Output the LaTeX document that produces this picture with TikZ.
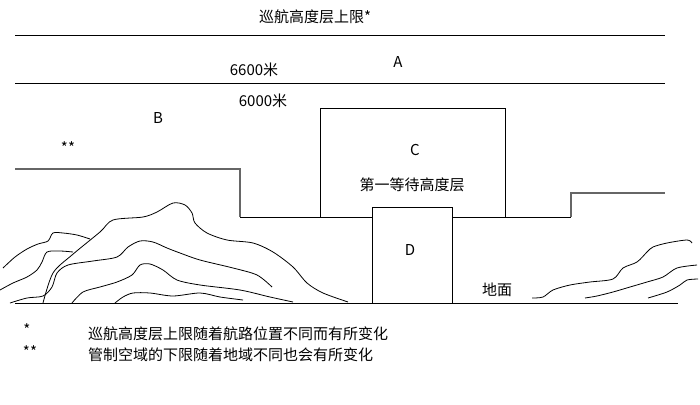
\documentclass[tikz,border=0pt]{standalone}
\usepackage{fontspec}
\newfontfamily\cjk{Noto Sans CJK SC}
\begin{document}
\begin{tikzpicture}[x=1pt,y=-1pt,
  lbl/.style={font=\cjk\fontsize{15}{17}\selectfont,inner sep=0pt},
  ln/.style={line width=0.9pt,black},
  gln/.style={line width=1.1pt,black!60},
  mtn/.style={line width=0.8pt,black}]
\useasboundingbox[fill=white] (0,0) rectangle (700,404);
\draw[ln] (15,35) -- (665,35);
\draw[ln] (15,83) -- (665,83);
\draw[gln] (15,169) -- (240,169) -- (240,217);
\draw[ln] (240,217) -- (571,217);
\draw[gln] (571,217) -- (571,193) -- (665,193);
\draw[ln] (320,217) -- (320,108) -- (505,108) -- (505,217);
\draw[ln,fill=white] (372,303) -- (372,207) -- (452,207) -- (452,303);
\draw[ln] (15,303) -- (678,303);
% mountains
\draw[mtn] plot[smooth,tension=0.5] coordinates {(43,303) (53,273) (72,255) (100,232) (113,220) (143,217) (157,212) (173,203) (185,205) (192,213) (195,223) (207,233) (227,240) (253,243) (273,252) (293,267) (307,283) (323,293) (348,302)};
\draw[mtn] plot[smooth,tension=0.5] coordinates {(3,268) (15,257) (27,249) (38,244) (48,241) (53,233) (63,233) (77,235) (90,239)};
\draw[mtn] plot[smooth,tension=0.5] coordinates {(0,290) (13,283) (27,277) (37,270) (42,262) (47,252) (60,251) (73,252)};
\draw[mtn] plot[smooth,tension=0.5] coordinates {(10,303) (27,298) (43,296) (52,287) (57,273) (68,265) (93,261) (117,257) (128,247) (140,241) (153,242) (167,248) (180,253) (200,260) (233,268) (257,275) (272,287)};
\draw[mtn] plot[smooth,tension=0.5] coordinates {(72,303) (83,292) (100,287) (117,282) (132,275) (140,265) (150,264) (163,270) (177,280) (200,285) (240,290) (270,297) (293,302)};
\draw[mtn] plot[smooth,tension=0.5] coordinates {(115,303) (123,297) (133,293) (150,293) (173,296) (200,293) (220,297) (243,300)};
\draw[mtn] plot[smooth,tension=0.5] coordinates {(532,298) (543,297) (553,290) (570,285) (590,282) (613,279) (623,268) (637,262) (647,252) (653,247) (667,243) (687,240) (692,243)};
\draw[mtn] plot[smooth,tension=0.5] coordinates {(585,298) (597,296) (613,292) (630,287) (647,282) (663,277) (677,268) (697,265)};
\draw[mtn] plot[smooth,tension=0.5] coordinates {(648,298) (667,292) (680,285) (687,280) (698,279)};
% labels
\node[lbl] (t1) at (315,17) {巡航高度层上限*};
\node[lbl] (t2) at (254,70) {6600米};
\node[lbl] (ta) at (398,62) {A};
\node[lbl] (t3) at (263,101) {6000米};
\node[lbl] (tb) at (158,118) {B};
\node[lbl] (ts) at (68,148) {**};
\node[lbl] (tc) at (415,150) {C};
\node[lbl] (tw) at (412,185) {第一等待高度层};
\node[lbl] (td) at (410,250) {D};
\node[lbl] (tg) at (497,290) {地面};
\node[lbl] (f1) at (27,330) {*};
\node[lbl,anchor=west] (f1t) at (88,334) {巡航高度层上限随着航路位置不同而有所变化};
\node[lbl] (f2) at (30,352) {**};
\node[lbl,anchor=west] (f2t) at (88,355) {管制空域的下限随着地域不同也会有所变化};
\end{tikzpicture}
\end{document}
